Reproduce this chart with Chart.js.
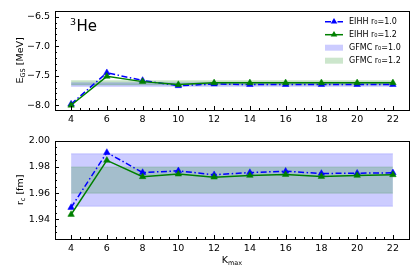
<!DOCTYPE html>
<html>
<head>
<meta charset="utf-8">
<script src="https://cdn.jsdelivr.net/npm/chart.js@4.4.0/dist/chart.umd.min.js"></script>
<style>
html,body{margin:0;padding:0;background:#fff;}
#wrap{position:relative;width:420px;height:280px;}
#c1{position:absolute;left:0;top:0;}
#c2{position:absolute;left:0;top:130px;}
</style>
</head>
<body>
<div id="wrap">
<canvas id="c1" width="420" height="130"></canvas>
<canvas id="c2" width="420" height="150"></canvas>
</div>
<script>
// ---- data ----
const kmax = [4, 6, 8, 10, 12, 14, 16, 18, 20, 22];
const egsR10 = [-7.98, -7.45, -7.58, -7.67, -7.64, -7.65, -7.65, -7.65, -7.65, -7.65];
const egsR12 = [-8.00, -7.51, -7.60, -7.65, -7.62, -7.62, -7.62, -7.62, -7.62, -7.62];
const rcR10 = [1.949, 1.991, 1.9757, 1.977, 1.974, 1.9757, 1.9767, 1.975, 1.9752, 1.9755];
const rcR12 = [1.9437, 1.985, 1.9725, 1.9745, 1.9722, 1.9735, 1.9742, 1.9727, 1.9735, 1.974];
const bandX = [4, 22];
const gfmcE10 = [-7.68, -7.62];   // [low, high]
const gfmcE12 = [-7.655, -7.585];
const gfmcR10 = [1.95, 1.99];
const gfmcR12 = [1.96, 1.98];
const xTickVals = [4, 6, 8, 10, 12, 14, 16, 18, 20, 22];
const xTickLabels = ['4', '6', '8', '10', '12', '14', '16', '18', '20', '22'];
const eTickVals = [-8.0, -7.5, -7.0, -6.5];
const eTickLabels = ['\u22128.0', '\u22127.5', '\u22127.0', '\u22126.5'];
const rTickVals = [1.94, 1.96, 1.98, 2.00];
const rTickLabels = ['1.94', '1.96', '1.98', '2.00'];
const legendLabels = ['EIHH r\u2080=1.0', 'EIHH r\u2080=1.2', 'GFMC r\u2080=1.0', 'GFMC r\u2080=1.2'];

// ---- styles ----
const BLUE = 'rgb(0,0,255)';
const GREEN = 'rgb(0,128,0)';
const BLUE_BAND = 'rgba(0,0,255,0.2)';
const GREEN_BAND = 'rgba(0,128,0,0.2)';
const FONT = "'DejaVu Sans', sans-serif";
Chart.defaults.font.family = FONT;
Chart.defaults.color = '#000';

function pts(xs, ys) { return xs.map((x, i) => ({x: x, y: ys[i]})); }

function makeDatasets(r10, r12, b10, b12) {
  return [
    {label: 'r12', data: pts(kmax, r12), borderColor: GREEN, backgroundColor: GREEN,
     borderWidth: 1.5, pointStyle: 'triangle', pointRadius: 3.8, pointBorderWidth: 0.5,
     pointBackgroundColor: GREEN, pointBorderColor: GREEN, fill: false, order: 0},
    {label: 'r10', data: pts(kmax, r10), borderColor: BLUE, backgroundColor: BLUE,
     borderWidth: 1.5, borderDash: [6, 2.5, 1.5, 2.5], pointStyle: 'triangle', pointRadius: 3.8,
     pointBorderWidth: 0.5, pointBackgroundColor: BLUE, pointBorderColor: BLUE, fill: false, order: 1},
    {label: 'b10lo', data: pts(bandX, [b10[0], b10[0]]), borderColor: BLUE_BAND, borderWidth: 0.8,
     pointRadius: 0, fill: false, order: 5},
    {label: 'b10hi', data: pts(bandX, [b10[1], b10[1]]), borderColor: BLUE_BAND, borderWidth: 0.8,
     pointRadius: 0, fill: '-1', backgroundColor: BLUE_BAND, order: 4},
    {label: 'b12lo', data: pts(bandX, [b12[0], b12[0]]), borderColor: GREEN_BAND, borderWidth: 0.8,
     pointRadius: 0, fill: false, order: 3},
    {label: 'b12hi', data: pts(bandX, [b12[1], b12[1]]), borderColor: GREEN_BAND, borderWidth: 0.8,
     pointRadius: 0, fill: '-1', backgroundColor: GREEN_BAND, order: 2}
  ];
}

// draws frame and inward ticks
const framePlugin = {
  id: 'frame',
  afterDraw(chart, args, opts) {
    const ctx = chart.ctx, a = chart.chartArea;
    const xs = chart.scales.x, ys = chart.scales.y;
    ctx.save();
    ctx.strokeStyle = '#000';
    ctx.lineWidth = 1;
    ctx.beginPath();
    for (let v = 4; v <= 22.001; v += 0.5) {
      const px = Math.round(xs.getPixelForValue(v)) + 0.5;
      const major = Math.abs(v / 2 - Math.round(v / 2)) < 1e-6;
      const len = major ? 4 : 2;
      ctx.moveTo(px, a.bottom);
      ctx.lineTo(px, a.bottom - len);
    }
    const st = opts.minorStep, mj = opts.majorStep;
    const start = Math.ceil(ys.min / st - 1e-6) * st;
    for (let v = start; v <= ys.max + 1e-9; v += st) {
      const py = Math.round(ys.getPixelForValue(v)) + 0.5;
      const major = Math.abs(v / mj - Math.round(v / mj)) < 1e-4;
      const len = major ? 4 : 2;
      ctx.moveTo(a.left, py);
      ctx.lineTo(a.left + len, py);
    }
    ctx.stroke();
    ctx.strokeRect(Math.round(a.left) + 0.5, Math.round(a.top) + 0.5,
      Math.round(a.right - a.left), Math.round(a.bottom - a.top));
    ctx.restore();
  }
};

function drawSegs(ctx, segs) {
  let w = 0;
  segs.forEach(s => { ctx.font = s.size + 'px ' + FONT; s.w = ctx.measureText(s.t).width; w += s.w; });
  let x = -w / 2;
  ctx.textBaseline = 'alphabetic';
  ctx.textAlign = 'left';
  segs.forEach(s => { ctx.font = s.size + 'px ' + FONT; ctx.fillText(s.t, x, (s.dy || 0)); x += s.w; });
}

const textPlugin = {
  id: 'texts',
  afterDraw(chart, args, opts) {
    const ctx = chart.ctx, a = chart.chartArea;
    ctx.save();
    ctx.fillStyle = '#000';
    ctx.save();
    ctx.translate(opts.yTitleX, (a.top + a.bottom) / 2);
    ctx.rotate(-Math.PI / 2);
    drawSegs(ctx, opts.yTitle);
    ctx.restore();
    if (opts.xTitle) {
      ctx.save();
      ctx.translate((a.left + a.right) / 2, opts.xTitleY);
      drawSegs(ctx, opts.xTitle);
      ctx.restore();
    }
    if (opts.nucleus) {
      ctx.textAlign = 'left';
      ctx.textBaseline = 'alphabetic';
      ctx.font = '9.5px ' + FONT;
      ctx.fillText('3', a.left + 15, a.top + 14);
      ctx.font = '15px ' + FONT;
      ctx.fillText('He', a.left + 21.5, a.top + 20.5);
    }
    if (opts.legend) {
      const x0 = a.right - 84, x1 = a.right - 66, tx = a.right - 60;
      const rows = [a.top + 11, a.top + 24, a.top + 37, a.top + 50];
      ctx.font = '8px ' + FONT;
      ctx.textBaseline = 'middle';
      [[BLUE, [6, 2.5, 1.5, 2.5]], [GREEN, []]].forEach((e, i) => {
        const y = rows[i];
        ctx.strokeStyle = e[0];
        ctx.lineWidth = 1.5;
        ctx.setLineDash(e[1]);
        ctx.beginPath(); ctx.moveTo(x0, y); ctx.lineTo(x1, y); ctx.stroke();
        ctx.setLineDash([]);
        ctx.fillStyle = e[0];
        const cx = (x0 + x1) / 2, r = 3.8;
        ctx.beginPath();
        ctx.moveTo(cx, y - r);
        ctx.lineTo(cx + r * 0.866, y + r * 0.5);
        ctx.lineTo(cx - r * 0.866, y + r * 0.5);
        ctx.closePath(); ctx.fill();
      });
      [BLUE_BAND, GREEN_BAND].forEach((c, i) => {
        const y = rows[i + 2];
        ctx.fillStyle = c;
        ctx.fillRect(x0, y - 3, x1 - x0, 6);
      });
      ctx.fillStyle = '#000';
      legendLabels.forEach((t, i) => ctx.fillText(t, tx, rows[i]));
    }
    ctx.restore();
  }
};

function xScale(h) {
  return {
    type: 'linear', min: 3.1, max: 22.9,
    grid: {display: false, drawTicks: false},
    border: {display: false},
    afterBuildTicks: s => { s.ticks = xTickVals.map(v => ({value: v})); },
    afterFit: s => { s.height = h; },
    ticks: {padding: 4, font: {size: 9.5}, maxRotation: 0, autoSkip: false,
      callback: (v) => { const i = xTickVals.indexOf(v); return i >= 0 ? xTickLabels[i] : ''; }}
  };
}
function yScale(min, max, vals, labels) {
  return {
    type: 'linear', min: min, max: max,
    grid: {display: false, drawTicks: false},
    border: {display: false},
    afterBuildTicks: s => { s.ticks = vals.map(v => ({value: v})); },
    afterFit: s => { s.width = 55; },
    ticks: {padding: 5, font: {size: 9.5}, autoSkip: false,
      callback: (v) => { const i = vals.findIndex(t => Math.abs(t - v) < 1e-9); return i >= 0 ? labels[i] : ''; }}
  };
}

const common = {
  responsive: false, animation: false, devicePixelRatio: 1,
  plugins: {legend: {display: false}, tooltip: {enabled: false}}
};

new Chart(document.getElementById('c1'), {
  type: 'line',
  data: {datasets: makeDatasets(egsR10, egsR12, gfmcE10, gfmcE12)},
  options: Object.assign({}, common, {
    layout: {padding: {left: 0, right: 11, top: 10, bottom: 0}},
    scales: {x: xScale(20), y: yScale(-8.08, -6.4, eTickVals, eTickLabels)},
    plugins: Object.assign({}, common.plugins, {
      frame: {minorStep: 0.1, majorStep: 0.5},
      texts: {yTitleX: 23, yTitle: [{t: 'E', size: 9.5}, {t: 'GS', size: 6.5, dy: 2}, {t: ' [MeV]', size: 9.5}],
        nucleus: true, legend: true}
    })
  }),
  plugins: [framePlugin, textPlugin]
});

new Chart(document.getElementById('c2'), {
  type: 'line',
  data: {datasets: makeDatasets(rcR10, rcR12, gfmcR10, gfmcR12)},
  options: Object.assign({}, common, {
    layout: {padding: {left: 0, right: 11, top: 8, bottom: 0}},
    scales: {x: xScale(41), y: yScale(1.925, 2.0, rTickVals, rTickLabels)},
    plugins: Object.assign({}, common.plugins, {
      frame: {minorStep: 0.005, majorStep: 0.02},
      texts: {yTitleX: 23, yTitle: [{t: 'r', size: 9.5}, {t: 'c', size: 6.5, dy: 2}, {t: ' [fm]', size: 9.5}],
        xTitle: [{t: 'K', size: 9.5}, {t: 'max', size: 6.5, dy: 2}], xTitleY: 133}
    })
  }),
  plugins: [framePlugin, textPlugin]
});
</script>
</body>
</html>
